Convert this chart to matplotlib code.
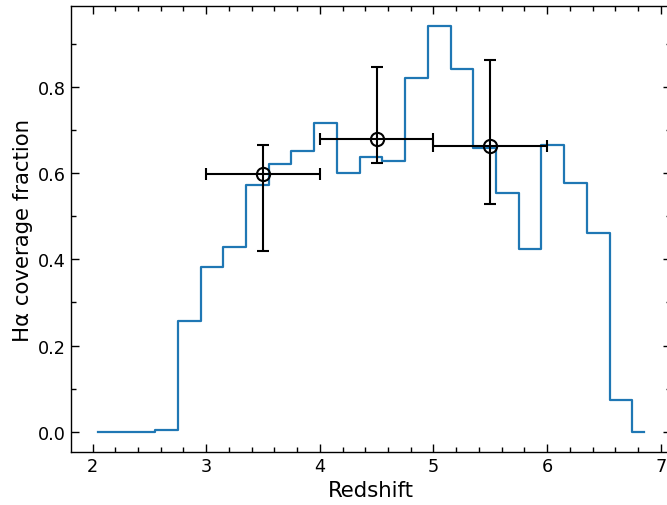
import numpy as np
import matplotlib
matplotlib.use("Agg")
import matplotlib.pyplot as plt
from matplotlib.ticker import MultipleLocator

# Coverage fraction per redshift bin (bin centres, width 0.2)
z_bins = [2.05, 2.25, 2.45, 2.65, 2.85, 3.05, 3.25, 3.45, 3.65, 3.85,
          4.05, 4.25, 4.45, 4.65, 4.85, 5.05, 5.25, 5.45, 5.65, 5.85,
          6.05, 6.25, 6.45, 6.65, 6.85]
coverage = [0.0, 0.0, 0.0, 0.005, 0.258, 0.382, 0.428, 0.573, 0.622, 0.652,
            0.717, 0.600, 0.638, 0.628, 0.821, 0.941, 0.843, 0.659, 0.555, 0.423,
            0.666, 0.578, 0.461, 0.074, 0.0]

# Binned averages with asymmetric errors
z_mean = [3.5, 4.5, 5.5]
frac_mean = [0.599, 0.679, 0.663]
z_err = [0.5, 0.5, 0.5]
frac_lo = [0.180, 0.056, 0.135]
frac_hi = [0.067, 0.167, 0.200]

fig = plt.figure(figsize=(6.67, 5.06), dpi=100)
ax = fig.add_axes([0.1064, 0.1047, 0.8996, 0.8814])

ax.step(z_bins, coverage, where='mid', color='#1f77b4', lw=1.6)
ax.errorbar(z_mean, frac_mean, xerr=z_err, yerr=[frac_lo, frac_hi],
            fmt='o', mfc='none', mec='k', ecolor='k', ms=9.5, mew=1.5,
            elinewidth=1.5, capsize=4.5, capthick=1.5)

ax.set_xlabel('Redshift', fontsize=15.3)
ax.set_ylabel('H\u03b1 coverage fraction', fontsize=15.3)

ax.xaxis.set_major_locator(MultipleLocator(1))
ax.xaxis.set_minor_locator(MultipleLocator(0.2))
ax.yaxis.set_major_locator(MultipleLocator(0.2))
ax.yaxis.set_minor_locator(MultipleLocator(0.1))
ax.tick_params(which='both', direction='in', top=True, right=True, labelsize=12.7)
ax.tick_params(which='major', length=5.8, width=1.0)
ax.tick_params(which='minor', length=3.6, width=1.0)
for s in ax.spines.values():
    s.set_linewidth(1.0)

fig.savefig('out.png', dpi=100)
